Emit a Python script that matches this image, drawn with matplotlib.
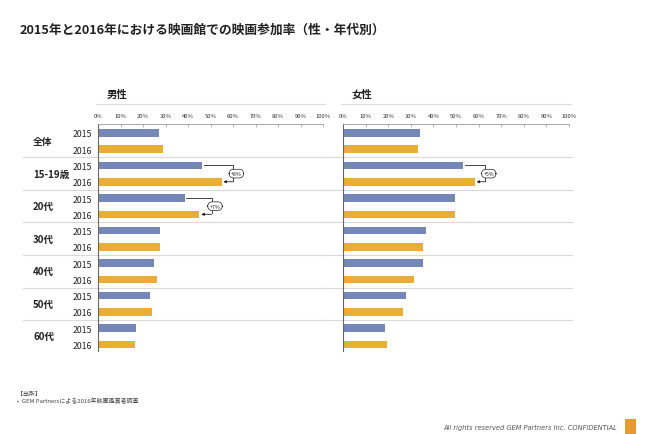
import matplotlib
matplotlib.use("Agg")
import matplotlib.pyplot as plt
from matplotlib.transforms import blended_transform_factory
from matplotlib.patches import Rectangle

plt.rcParams['font.family'] = ['Noto Sans CJK JP', 'DejaVu Sans']

groups = ["全体", "15-19歳", "20代", "30代", "40代", "50代", "60代"]
years = ["2015", "2016"]
male_2015 = [27.2, 46.4, 38.5, 27.4, 25.0, 22.9, 17.0]
male_2016 = [28.8, 54.9, 45.1, 27.7, 26.0, 23.8, 16.5]
female_2015 = [34.0, 53.3, 49.4, 36.9, 35.4, 28.0, 18.7]
female_2016 = [33.1, 58.3, 49.4, 35.4, 31.4, 26.4, 19.5]
panel_titles = ["男性", "女性"]
xticks = [0, 10, 20, 30, 40, 50, 60, 70, 80, 90, 100]
xticklabels = [f"{t}%" for t in xticks]
# annotations: (panel, group index, label, x position of label in %)
annotations = [(0, 1, "+8%", 61), (0, 2, "+7%", 51.5), (1, 1, "+5%", 64)]

C2015 = "#7587B6"
C2016 = "#E9AE36"

W, H = 650, 435
fig = plt.figure(figsize=(W / 100, H / 100), dpi=100)

def fx(px):
    return px / W

def fy(py):
    return 1 - py / H

axes_px = [(98, 323), (343, 569)]
sep_px = [(23, 330), (320, 572)]
top_px = 125
bot_px = 352
data_sets = [(male_2015, male_2016), (female_2015, female_2016)]

axs = []
for p, ((x0, x1), (d15, d16)) in enumerate(zip(axes_px, data_sets)):
    ax = fig.add_axes([fx(x0), fy(bot_px), fx(x1) - fx(x0), fy(top_px) - fy(bot_px)])
    axs.append(ax)
    n = len(groups)
    pos15 = [2 * i for i in range(n)]
    pos16 = [2 * i + 1 for i in range(n)]
    ax.barh(pos15, d15, height=0.46, color=C2015)
    ax.barh(pos16, d16, height=0.46, color=C2016)
    ax.set_xlim(0, 100)
    ax.set_ylim(13.4, -0.55)
    ax.xaxis.tick_top()
    ax.set_xticks(xticks)
    ax.set_xticklabels(xticklabels, fontsize=4.2, color="#333333")
    ax.tick_params(axis='x', direction='in', length=2, width=0.5, color="#999999", pad=4)
    for s in ["right", "bottom"]:
        ax.spines[s].set_visible(False)
    ax.spines["top"].set_color("#999999")
    ax.spines["top"].set_linewidth(0.6)
    ax.spines["left"].set_color("#666666")
    ax.spines["left"].set_linewidth(0.8)
    if p == 0:
        ax.set_yticks(pos15 + pos16)
        ax.set_yticklabels([years[0]] * n + [years[1]] * n, fontsize=6.3, color="#222222")
        ax.tick_params(axis='y', length=0, pad=4)
    else:
        ax.set_yticks([])
    ax.patch.set_visible(False)

    tr = blended_transform_factory(fig.transFigure, ax.transData)
    sx0, sx1 = sep_px[p]
    for i in range(1, n):
        ax.plot([fx(sx0), fx(sx1)], [2 * i - 0.5, 2 * i - 0.5], transform=tr,
                color="#d9d9d9", lw=0.8, clip_on=False, zorder=0)
    if p == 0:
        for i, g in enumerate(groups):
            ax.text(fx(33), 2 * i + 0.5, g, transform=tr, fontsize=7, fontweight='bold',
                    ha='left', va='center', color="#222222")

    # panel title and line above
    fig.text(fx(x0 + 9), fy(95), panel_titles[p], fontsize=7.5, fontweight='bold',
             ha='left', va='center', color="#222222")
    fig.add_artist(plt.Line2D([fx(x0 - 2), fx(x1 + 2)], [fy(105), fy(105)],
                              color="#dddddd", lw=0.8))

for (p, gi, lab, xl) in annotations:
    ax = axs[p]
    d15, d16 = data_sets[p]
    y15, y16 = 2 * gi, 2 * gi + 1
    ax.plot([d15[gi] + 0.8, xl - 1, xl - 1], [y15, y15, y16 - 0.05], color="#222222", lw=0.6, clip_on=False)
    ax.annotate("", xy=(d16[gi] + 0.8, y16), xytext=(xl - 1, y16),
                arrowprops=dict(arrowstyle="-|>", color="#222222", lw=0.6, mutation_scale=4,
                                shrinkA=0, shrinkB=0))
    ax.text(xl + 0.5, (y15 + y16) / 2, lab, fontsize=3.8, ha='center', va='center', color="#222222",
            bbox=dict(boxstyle="round,pad=0.35,rounding_size=0.9", fc="white", ec="#222222", lw=0.5))

# title
fig.text(fx(20), fy(30), "2015年と2016年における映画館での映画参加率（性・年代別）",
         fontsize=9.2, fontweight='bold', ha='left', va='center', color="#222222")

# footer
fig.text(fx(17), fy(394), "【出所】", fontsize=4.3, ha='left', va='center', color="#444444")
fig.text(fx(17), fy(401), "•  GEM Partnersによる2016年映画鑑賞者調査", fontsize=4.3, ha='left', va='center', color="#444444")
fig.text(fx(617), fy(428), "All rights reserved GEM Partners Inc. CONFIDENTIAL", fontsize=4.8,
         style='italic', ha='right', va='center', color="#555555", family=['DejaVu Sans'])
fig.add_artist(Rectangle((fx(625), fy(435)), fx(11), fy(420) - fy(435), transform=fig.transFigure,
                         color="#E99A2C", lw=0))

fig.savefig("out.png", dpi=100)
